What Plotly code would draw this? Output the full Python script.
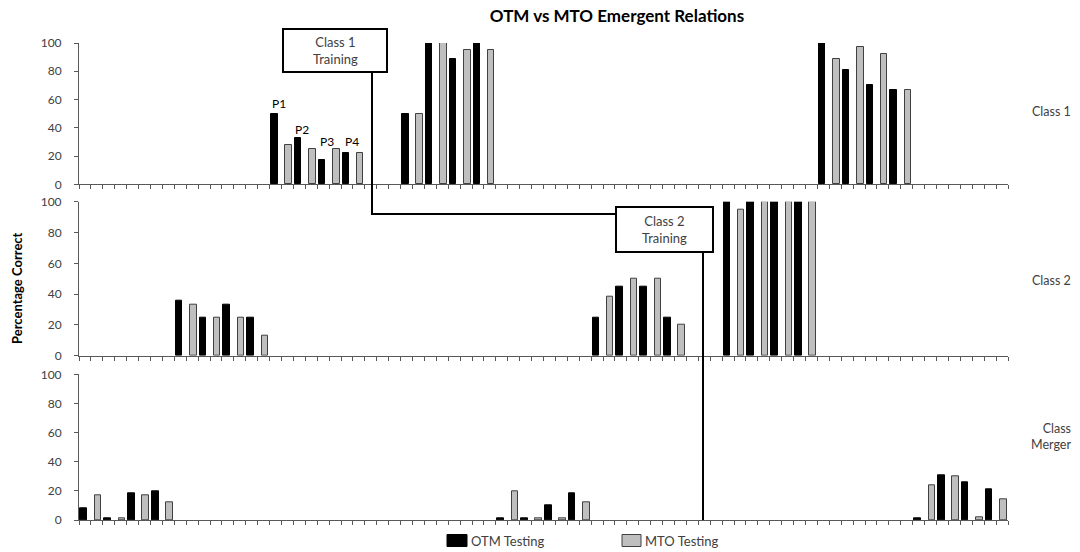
import plotly.graph_objects as go

# ---- data -------------------------------------------------------------
N_SLOTS = 78  # one slot per test session along the shared session axis

class1_otm_slots = [16, 18, 20, 22, 27, 29, 31, 33, 62, 64, 66, 68]
class1_otm = [50, 33, 17, 22, 50, 100, 89, 100, 100, 81, 70, 67]
class1_mto_slots = [17, 19, 21, 23, 28, 30, 32, 34, 63, 65, 67, 69]
class1_mto = [28, 25, 25, 22, 50, 100, 95, 95, 89, 97, 92, 67]

class2_otm_slots = [8, 10, 12, 14, 43, 45, 47, 49, 54, 56, 58, 60]
class2_otm = [36, 25, 33, 25, 25, 45, 45, 25, 100, 100, 100, 100]
class2_mto_slots = [9, 11, 13, 15, 44, 46, 48, 50, 55, 57, 59, 61]
class2_mto = [33, 25, 25, 13, 38, 50, 50, 20, 95, 100, 100, 100]

merger_otm_slots = [0, 2, 4, 6, 35, 37, 39, 41, 70, 72, 74, 76]
merger_otm = [8, 1, 18, 20, 1, 1, 10, 18, 1, 31, 26, 21]
merger_mto_slots = [1, 3, 5, 7, 36, 38, 40, 42, 71, 73, 75, 77]
merger_mto = [17, 1, 17, 12, 20, 1, 1, 12, 24, 30, 2, 14]

participant_labels = ["P1", "P2", "P3", "P4"]
participant_slots = [16.3, 18.2, 20.3, 22.4]
participant_label_y = [57, 38.5, 30.5, 30.5]

series_names = ["OTM Testing", "MTO Testing"]
panel_names = ["Class 1", "Class 2", "Class<br>Merger"]
y_ticks = [0, 20, 40, 60, 80, 100]

# ---- layout geometry (pixels of the 1080x552 page) -------------------
W, H = 1080, 552
L, R, T, B = 79, 1008, 43, 520


def px_x(p):
    return (p - L) / (R - L)


def px_y(p):
    return (B - p) / (B - T)


FONT = "Lato, 'Open Sans', Arial, sans-serif"
TEXT = "#404040"
AXIS = "#595959"
BAR_W = 0.55
OTM_FILL, OTM_LINE = "#000000", "#000000"
MTO_FILL, MTO_LINE = "#bfbfbf", "#404040"

fig = go.Figure()

panels = [
    (class1_otm_slots, class1_otm, class1_mto_slots, class1_mto),
    (class2_otm_slots, class2_otm, class2_mto_slots, class2_mto),
    (merger_otm_slots, merger_otm, merger_mto_slots, merger_mto),
]
for k, (os_, ov, ms, mv) in enumerate(panels):
    ax = "" if k == 0 else str(k + 1)
    fig.add_trace(go.Bar(
        x=os_, y=ov, name=series_names[0], width=BAR_W, offset=-0.1 - BAR_W / 2,
        marker=dict(color=OTM_FILL, line=dict(color=OTM_LINE, width=1)),
        xaxis="x" + ax, yaxis="y" + ax, showlegend=False,
    ))
    fig.add_trace(go.Bar(
        x=ms, y=mv, name=series_names[1], width=BAR_W, offset=0.1 - BAR_W / 2,
        marker=dict(color=MTO_FILL, line=dict(color=MTO_LINE, width=1)),
        xaxis="x" + ax, yaxis="y" + ax, showlegend=False,
    ))

# vertical extents of the three panels
domains = [
    (px_y(184.3), 1.0),
    (px_y(355.7), px_y(201.7)),
    (0.0, px_y(374.3)),
]

layout_axes = {}
for k, dom in enumerate(domains):
    sfx = "" if k == 0 else str(k + 1)
    layout_axes["xaxis" + sfx] = dict(
        domain=[0, 1], range=[-0.5, N_SLOTS - 0.5], anchor="y" + sfx,
        showline=True, linecolor=AXIS, linewidth=1,
        ticks="outside", ticklen=4, tickcolor=AXIS, tickwidth=1,
        tickmode="linear", tick0=-0.5, dtick=1,
        showticklabels=False, showgrid=False, zeroline=False, fixedrange=True,
    )
    layout_axes["yaxis" + sfx] = dict(
        domain=list(dom), range=[0, 100], anchor="x" + sfx,
        showline=True, linecolor=AXIS, linewidth=1,
        ticks="outside", ticklen=4, tickcolor=AXIS, ticklabelstandoff=10,
        tickvals=y_ticks, tickfont=dict(size=12, color=TEXT, family=FONT),
        showgrid=False, zeroline=False, fixedrange=True,
    )

annotations = []
# participant labels above the first class-1 probes
for lab, sx, sy in zip(participant_labels, participant_slots, participant_label_y):
    annotations.append(dict(
        x=sx, y=sy, xref="x", yref="y", text=lab, showarrow=False,
        xanchor="center", yanchor="middle", font=dict(size=12, color="#000000", family=FONT),
    ))

# panel names on the right
for name, yc in zip(panel_names, [111, 280, 436]):
    annotations.append(dict(
        x=px_x(1073), y=px_y(yc), xref="paper", yref="paper", text=name,
        showarrow=False, xanchor="right", yanchor="middle", align="right",
        font=dict(size=12.5, color=TEXT, family=FONT),
    ))

# y-axis title
annotations.append(dict(
    x=px_x(17), y=px_y(288), xref="paper", yref="paper", text="<b>Percentage Correct</b>",
    showarrow=False, textangle=-90, xanchor="center", yanchor="middle",
    font=dict(size=13, color="#000000", family=FONT),
))

# training-phase callouts
boxes = [
    ("Class 1<br>Training", 283, 29, 387, 72),
    ("Class 2<br>Training", 616, 207, 713, 252),
]
shapes = [
    # class 1 training connector
    dict(type="line", xref="paper", yref="paper", x0=px_x(372), x1=px_x(372),
         y0=px_y(72), y1=px_y(214), line=dict(color="#000000", width=2)),
    dict(type="line", xref="paper", yref="paper", x0=px_x(371), x1=px_x(616),
         y0=px_y(214), y1=px_y(214), line=dict(color="#000000", width=2)),
    # class 2 training connector
    dict(type="line", xref="paper", yref="paper", x0=px_x(703), x1=px_x(703),
         y0=px_y(252), y1=px_y(520), line=dict(color="#000000", width=2)),
]
for txt, x0, y0, x1, y1 in boxes:
    shapes.append(dict(type="rect", xref="paper", yref="paper",
                       x0=px_x(x0), x1=px_x(x1), y0=px_y(y1), y1=px_y(y0),
                       fillcolor="#ffffff", line=dict(color="#000000", width=2), layer="above"))
    annotations.append(dict(
        x=px_x((x0 + x1) / 2), y=px_y((y0 + y1) / 2), xref="paper", yref="paper",
        text=txt, showarrow=False, xanchor="center", yanchor="middle", align="center",
        font=dict(size=13, color=TEXT, family=FONT),
    ))

# legend keys below the bottom panel
legend_items = [
    (series_names[0], OTM_FILL, OTM_LINE, 447, 467),
    (series_names[1], MTO_FILL, MTO_LINE, 622, 641),
]
for name, fill, edge, kx0, kx1 in legend_items:
    shapes.append(dict(type="rect", xref="paper", yref="paper",
                       x0=px_x(kx0), x1=px_x(kx1), y0=px_y(546.5), y1=px_y(534.5),
                       fillcolor=fill, line=dict(color=edge, width=1)))
    annotations.append(dict(
        x=px_x(kx1 + 2), y=px_y(540.5), xref="paper", yref="paper", text=name,
        showarrow=False, xanchor="left", yanchor="middle",
        font=dict(size=13, color=TEXT, family=FONT),
    ))

fig.update_layout(
    width=W, height=H,
    margin=dict(l=L, r=W - R, t=T, b=H - B, pad=0, autoexpand=False),
    paper_bgcolor="#ffffff", plot_bgcolor="#ffffff",
    barmode="overlay", bargap=0, showlegend=False,
    title=dict(text="<b>OTM vs MTO Emergent Relations</b>", x=617 / W,
               xanchor="center", y=1 - 16 / H, yanchor="middle",
               font=dict(size=17, color="#000000", family=FONT)),
    shapes=shapes, annotations=annotations,
    **layout_axes,
)

fig.write_html("out.html")
